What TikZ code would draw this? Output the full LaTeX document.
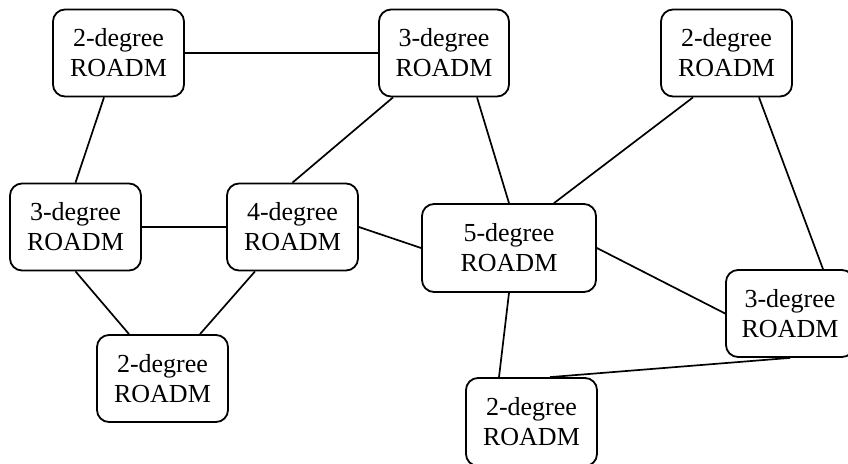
\documentclass[tikz,border=0pt]{standalone}
\usepackage{fontspec}
\setmainfont{Liberation Serif}
\begin{document}
\begin{tikzpicture}[x=1pt,y=-1pt,
  roadm/.style={draw, line width=1.8pt, rounded corners=12pt, fill=white,
    minimum width=131pt, minimum height=87pt, inner sep=0pt, align=center,
    font=\fontsize{26}{30}\selectfont},
  link/.style={line width=1.7pt}]
\useasboundingbox (0,0) rectangle (848,463);
\clip (0,0) rectangle (848,463);
% ROADM nodes
\node[roadm] (tl) at (118.5,53) {2-degree\\ROADM};
\node[roadm, minimum width=130pt] (tm) at (444,53) {3-degree\\ROADM};
\node[roadm] (tr) at (726.5,53) {2-degree\\ROADM};
\node[roadm] (ml) at (75.5,227) {3-degree\\ROADM};
\node[roadm] (fd) at (292.5,227) {4-degree\\ROADM};
\node[roadm] (bl) at (162.5,378.5) {2-degree\\ROADM};
\node[roadm, minimum width=174pt, minimum height=88pt] (fv) at (509,248) {5-degree\\ROADM};
\node[roadm, minimum width=128pt] (r3) at (790,313.5) {3-degree\\ROADM};
\node[roadm, minimum height=88pt] (b2) at (531.5,422) {2-degree\\ROADM};
% fibre links
\draw[link] (tl.east) -- (tm.west);
\draw[link] ([xshift=-14.5pt]tl.south) -- (ml.north);
\draw[link] ([xshift=-51pt]tm.south) -- (fd.north);
\draw[link] ([xshift=33pt]tm.south) -- (fv.north);
\draw[link] ([xshift=-33.5pt]tr.south) -- ([xshift=45pt]fv.north);
\draw[link] ([xshift=32.5pt]tr.south) -- ([xshift=33pt]r3.north);
\draw[link] (ml.east) -- (fd.west);
\draw[link] (ml.south) -- ([xshift=-33.5pt]bl.north);
\draw[link] ([xshift=-37.5pt]fd.south) -- ([xshift=37.5pt]bl.north);
\draw[link] (fd.east) -- (fv.west);
\draw[link] (fv.east) -- (r3.west);
\draw[link] (fv.south) -- ([xshift=-32.5pt]b2.north);
\draw[link] (r3.south) -- ([xshift=18.5pt]b2.north);
\end{tikzpicture}
\end{document}
